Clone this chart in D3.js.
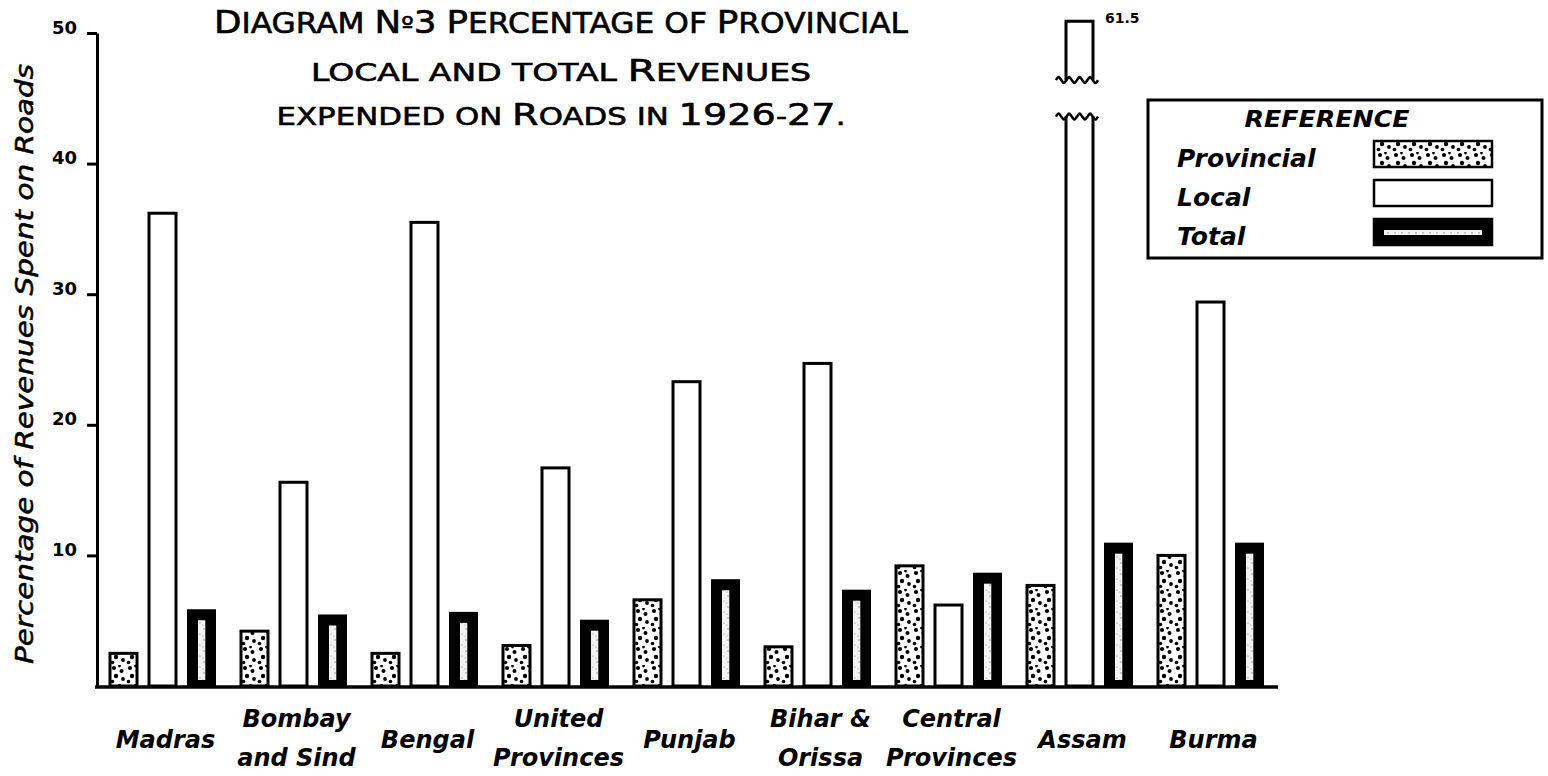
<!DOCTYPE html>
<html>
<head>
<meta charset="utf-8">
<script src="https://cdn.jsdelivr.net/npm/d3@7"></script>
<style>
  html, body { margin: 0; padding: 0; background: #fff; }
  svg { display: block; }
  text { font-family: "DejaVu Sans", sans-serif; fill: #000; }
</style>
</head>
<body>
<script>
// ---------------- DATA ----------------
const categories = ["Madras", "Bombay and Sind", "Bengal", "United Provinces", "Punjab",
                    "Bihar & Orissa", "Central Provinces", "Assam", "Burma"];
const categoryLabelLines = [["Madras"], ["Bombay", "and Sind"], ["Bengal"], ["United", "Provinces"],
                            ["Punjab"], ["Bihar &", "Orissa"], ["Central", "Provinces"], ["Assam"], ["Burma"]];
const seriesNames = ["Provincial", "Local", "Total"];
const provincialValues = [2.5, 4.2, 2.5, 3.1, 6.6, 3.0, 9.2, 7.7, 10.0];
const localValues      = [36.2, 15.6, 35.5, 16.7, 23.3, 24.7, 6.2, 61.5, 29.4];
const totalValues      = [5.8, 5.4, 5.6, 5.0, 8.1, 7.3, 8.6, 10.9, 10.9];
const yTickValues = [10, 20, 30, 40, 50];
const titleLines = ["Diagram Nº3 Percentage of Provincial", "local and total Revenues", "expended on Roads in 1926-27."];
const yAxisTitle = "Percentage of Revenues Spent on Roads";
const legendTitle = "REFERENCE";
// broken-bar display values (bars beyond the axis top)
const brokenDisplayTop = 50.9, breakUpper = 46.4, breakLower = 43.6;

// ---------------- SETUP ----------------
const W = 1548, H = 776;
const svg = d3.select("body").append("svg").attr("width", W).attr("height", H);

const defs = svg.append("defs");
const dots = defs.append("pattern").attr("id", "dots").attr("patternUnits", "userSpaceOnUse")
  .attr("width", 16).attr("height", 19);
dots.append("rect").attr("width", 16).attr("height", 19).attr("fill", "#fff");
[[4,3,2.1],[11.5,6,2.0],[6,11,2.2],[13,14,1.9],[2.5,16.5,1.8],[9.5,1,1.4]].forEach(d =>
  dots.append("circle").attr("cx", d[0]).attr("cy", d[1]).attr("r", d[2]).attr("fill", "#000"));
const speck = defs.append("pattern").attr("id", "speck").attr("patternUnits", "userSpaceOnUse")
  .attr("width", 7).attr("height", 11);
speck.append("rect").attr("width", 7).attr("height", 11).attr("fill", "#f3f3f3");
[[2,2,0.7],[5,7,0.6],[1,9,0.5]].forEach(d =>
  speck.append("circle").attr("cx", d[0]).attr("cy", d[1]).attr("r", d[2]).attr("fill", "#777"));

const y = d3.scaleLinear().domain([0, 50]).range([686, 33]);
const x0 = d3.scaleBand().domain(categories).range([97, 1276]).padding(0);
const x1 = d3.scaleBand().domain(seriesNames).range([13, 118]).paddingInner(0.3077).paddingOuter(0);
const bw = x1.bandwidth();

const valuesBySeries = { Provincial: provincialValues, Local: localValues, Total: totalValues };
const barData = [];
categories.forEach((c, i) => seriesNames.forEach(s => barData.push({ cat: c, series: s, value: valuesBySeries[s][i] })));

// ---------------- TITLE ----------------
function smallCaps(textSel, str, big, small) {
  for (const ch of str) {
    if (ch === "º") {
      textSel.append("tspan").attr("font-size", small * 0.85).text("º");
    } else if (/[A-Z0-9]/.test(ch)) {
      textSel.append("tspan").attr("font-size", big).text(ch);
    } else {
      textSel.append("tspan").attr("font-size", small).text(ch.toUpperCase());
    }
  }
}
const titleSpecs = [
  { y: 33, big: 32, small: 28, len: 694 },
  { y: 81, big: 31, small: 25, len: 500 },
  { y: 125, big: 31, small: 25, len: 569 }
];
titleLines.forEach((t, i) => {
  const sp = titleSpecs[i];
  const tx = svg.append("text").attr("x", 561).attr("y", sp.y).attr("text-anchor", "middle")
    .attr("stroke", "#000").attr("stroke-width", 0.6)
    .attr("textLength", sp.len).attr("lengthAdjust", "spacingAndGlyphs");
  smallCaps(tx, t, sp.big, sp.small);
});

// ---------------- Y AXIS ----------------
const yAxis = svg.append("g").attr("transform", "translate(97,0)")
  .call(d3.axisLeft(y).tickValues(yTickValues).tickSize(10).tickPadding(10).tickSizeOuter(0));
yAxis.select(".domain").attr("stroke", "#000").attr("stroke-width", 3);
yAxis.selectAll(".tick line").attr("stroke", "#000").attr("stroke-width", 3);
yAxis.selectAll(".tick text").attr("dy", "0").attr("y", 0)
  .attr("font-family", "DejaVu Sans").attr("font-weight", "bold").attr("font-size", 18).attr("fill", "#000");

svg.append("text").attr("transform", "translate(33,364) rotate(-90)").attr("text-anchor", "middle")
  .attr("font-style", "italic").attr("font-size", 24).attr("stroke", "#000").attr("stroke-width", 0.5)
  .attr("textLength", 600).attr("lengthAdjust", "spacingAndGlyphs").text(yAxisTitle);

// ---------------- BARS ----------------
const groups = svg.append("g").selectAll("g.bar").data(barData).join("g").attr("class", "bar")
  .attr("transform", d => `translate(${x0(d.cat) + x1(d.series)},0)`);

groups.filter(d => d.series === "Provincial").append("rect")
  .attr("x", 0).attr("width", bw).attr("y", d => y(d.value)).attr("height", d => y(0) - y(d.value))
  .attr("fill", "url(#dots)").attr("stroke", "#000").attr("stroke-width", 3);

groups.filter(d => d.series === "Local" && d.value <= 50).append("rect")
  .attr("x", 0).attr("width", bw).attr("y", d => y(d.value)).attr("height", d => y(0) - y(d.value))
  .attr("fill", "#fff").attr("stroke", "#000").attr("stroke-width", 3);

const totals = groups.filter(d => d.series === "Total");
totals.append("rect")
  .attr("x", 0).attr("width", bw).attr("y", d => y(d.value)).attr("height", d => y(0) - y(d.value))
  .attr("fill", "#000").attr("stroke", "#000").attr("stroke-width", 2);
totals.append("rect")
  .attr("x", bw * 0.37).attr("width", bw * 0.27).attr("y", d => y(d.value) + 10)
  .attr("height", d => Math.max(0, y(0) - y(d.value) - 16))
  .attr("fill", "url(#speck)");

// broken bar(s)
const wave = (x0p, x1p, yy, n) => {
  const pts = d3.range(0, n * 4 + 1).map(k => [x0p + (x1p - x0p) * k / (n * 4), yy + [0, -3, 0, 3][k % 4]]);
  return d3.line().curve(d3.curveCatmullRom)(pts);
};
const broken = groups.filter(d => d.series === "Local" && d.value > 50);
broken.append("path")
  .attr("d", d => `M0,${y(breakUpper)}V${y(brokenDisplayTop)}H${bw}V${y(breakUpper)}`)
  .attr("fill", "#fff").attr("stroke", "#000").attr("stroke-width", 3);
broken.append("path").attr("d", d => wave(-10, bw + 5, y(breakUpper), 4))
  .attr("fill", "none").attr("stroke", "#000").attr("stroke-width", 2.5);
broken.append("path")
  .attr("d", d => `M0,${y(breakLower)}V${y(0)}H${bw}V${y(breakLower)}`)
  .attr("fill", "#fff").attr("stroke", "#000").attr("stroke-width", 3);
broken.append("path").attr("d", d => wave(-10, bw + 5, y(breakLower), 4))
  .attr("fill", "none").attr("stroke", "#000").attr("stroke-width", 2.5);
broken.append("text").attr("x", bw + 12).attr("y", y(brokenDisplayTop) + 2)
  .attr("font-size", 14).attr("font-weight", "bold").text(d => d.value);

// baseline
svg.append("line").attr("x1", 95).attr("x2", 1278).attr("y1", y(0) + 1).attr("y2", y(0) + 1)
  .attr("stroke", "#000").attr("stroke-width", 3.5);

// ---------------- X LABELS ----------------
svg.append("g").selectAll("text").data(categories).join("text")
  .attr("text-anchor", "middle").attr("font-style", "italic").attr("font-size", 24).attr("font-weight", "bold")
  .each(function(c, i) {
    const lines = categoryLabelLines[i];
    const t = d3.select(this);
    const cx = x0(c) + x0.bandwidth() / 2 + 3;
    if (lines.length === 1) {
      t.append("tspan").attr("x", cx).attr("y", 748).text(lines[0]);
    } else {
      lines.forEach((l, k) => t.append("tspan").attr("x", cx).attr("y", 727 + k * 39).text(l));
    }
  });

// ---------------- LEGEND ----------------
const lg = svg.append("g");
lg.append("rect").attr("x", 1148).attr("y", 100).attr("width", 394).attr("height", 158)
  .attr("fill", "#fff").attr("stroke", "#000").attr("stroke-width", 3);
lg.append("text").attr("x", 1327).attr("y", 127).attr("text-anchor", "middle")
  .attr("font-style", "italic").attr("font-weight", "bold").attr("font-size", 23)
  .attr("textLength", 165).attr("lengthAdjust", "spacingAndGlyphs").text(legendTitle);
const legendRows = [
  { name: seriesNames[0], ty: 167, sy: 141 },
  { name: seriesNames[1], ty: 206, sy: 180 },
  { name: seriesNames[2], ty: 245, sy: 219 }
];
legendRows.forEach(r => {
  lg.append("text").attr("x", 1177).attr("y", r.ty).attr("font-style", "italic")
    .attr("font-weight", "bold").attr("font-size", 25).text(r.name);
  if (r.name === "Provincial") {
    lg.append("rect").attr("x", 1374).attr("y", r.sy).attr("width", 118).attr("height", 26)
      .attr("fill", "url(#dots)").attr("stroke", "#000").attr("stroke-width", 2.5);
  } else if (r.name === "Local") {
    lg.append("rect").attr("x", 1374).attr("y", r.sy).attr("width", 118).attr("height", 26)
      .attr("fill", "#fff").attr("stroke", "#000").attr("stroke-width", 2.5);
  } else {
    lg.append("rect").attr("x", 1374).attr("y", r.sy).attr("width", 118).attr("height", 26)
      .attr("fill", "#000").attr("stroke", "#000").attr("stroke-width", 2.5);
    lg.append("rect").attr("x", 1384).attr("y", r.sy + 11).attr("width", 98).attr("height", 5)
      .attr("fill", "url(#speck)");
  }
});
</script>
</body>
</html>
